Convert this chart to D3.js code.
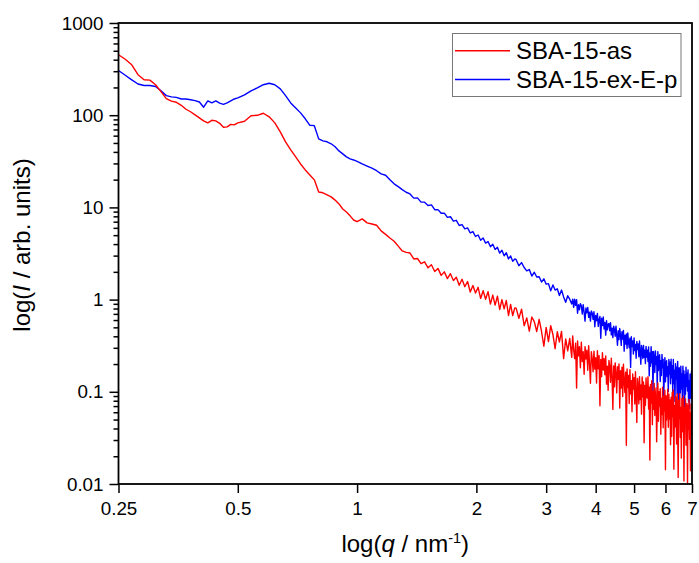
<!DOCTYPE html>
<html>
<head>
<meta charset="utf-8">
<script src="https://cdn.jsdelivr.net/npm/d3@7"></script>
<style>
    html, body { margin: 0; padding: 0; background: #fff; }
    svg { display: block; font-family: "Liberation Sans", Arial, sans-serif; }
    .axis line { stroke: #000; stroke-width: 1.5; }
    .axis text { font-size: 18.8px; fill: #000; font-family: "Liberation Sans", Arial, sans-serif; }
</style>
</head>
<body>
<div id="chart"></div>
<script>
// scattering vector q (nm^-1), shared by both curves
var qValues = [
    0.25,0.26,0.27,0.28,0.29,0.30,0.31,0.32,0.33,0.34,0.35,0.36,0.37,0.38,0.39,0.40,
    0.41,0.42,0.43,0.44,0.45,0.46,0.47,0.48,0.49,0.50,0.52,0.54,0.56,0.58,0.60,0.62,
    0.64,0.66,0.68,0.70,0.72,0.74,0.76,0.78,0.80,0.82,0.84,0.86,0.88,0.90,0.92,0.94,
    0.96,0.98,1.00,1.03,1.06,1.09,1.12,1.15,1.18,1.21,1.24,1.27,1.30,
    1.33,1.36,1.39,1.42,1.45,1.48,1.51,1.54,1.57,1.60,1.63,1.66,1.69,1.72,1.75,1.78,
    1.81,1.84,1.87,1.90,1.93,1.96,1.99,2.02,2.05,2.08,2.11,2.14,2.17,2.20,2.23,2.26,
    2.29,2.32,2.35,2.38,2.41,2.44,2.47,2.50,
    2.52,2.56,2.60,2.64,2.68,2.72,2.76,2.80,2.84,2.88,2.92,2.96,3.00,
    3.04,3.08,3.12,3.16,3.20,3.24,3.28,3.32,3.36,3.40,3.44,3.48,
    3.50,3.52,3.54,3.56,3.58,3.60,3.62,3.64,3.66,3.68,3.70,3.72,3.74,3.76,3.78,3.80,3.82,3.84,3.86,3.88,
    3.90,3.92,3.94,3.96,3.98,
    4.00,4.02,4.04,4.06,4.08,4.10,4.12,4.14,4.16,4.18,4.20,4.22,4.24,4.26,4.28,4.30,4.32,4.34,4.36,4.38,
    4.40,4.42,4.44,4.46,4.48,4.50,4.52,4.54,4.56,4.58,
    4.60,4.62,4.64,4.66,4.68,4.70,4.72,4.74,4.76,4.78,4.80,4.82,4.84,4.86,4.88,4.90,4.92,4.94,4.96,4.98,
    5.00,5.02,5.04,5.06,5.08,5.10,5.12,5.14,5.16,5.18,5.20,5.22,5.24,5.26,5.28,5.30,5.32,5.34,5.36,5.38,
    5.40,5.42,5.44,5.46,5.48,5.50,5.52,5.54,5.56,5.58,5.60,5.62,5.64,5.66,5.68,5.70,5.72,5.74,5.76,5.78,
    5.80,5.82,5.84,5.86,5.88,5.90,5.92,5.94,5.96,5.98,6.00,6.02,6.04,6.06,6.08,6.10,6.12,6.14,6.16,6.18,
    6.20,6.22,6.24,6.26,6.28,6.30,6.32,6.34,6.36,6.38,6.40,6.42,6.44,6.46,6.48,6.50,6.52,6.54,6.56,6.58,
    6.60,6.62,6.64,6.66,6.68,6.70,6.72,6.74,6.76,6.78,6.80,6.82,6.84,6.86,6.88,6.90,6.92,6.94,6.96,6.98,
    7.00
];

// SBA-15-as intensity (arb. units)
var asIntensity = [
    453,404,352,275,242,240,214,180,151,142,138,128,116,109,101,93.7,
    86.9,82.6,88,86.9,81.7,73.9,74.8,79.6,78.6,82.6,85.9,98.5,99.7,105,96,82.6,
    66,51.4,42,35.3,29.6,25.5,22.5,19.9,14.7,14.4,13.7,13.0,12.0,10.9,9.6,8.9,
    8.1,7.3,7.0,7.5,6.8,6.6,6.4,5.56,5.1,4.66,4.3,3.8,3.37,
    3.25,3.2,2.76,2.79,2.45,2.57,2.21,2.39,2.02,2.18,1.83,2.0,1.69,1.91,1.61,1.75,
    1.43,1.66,1.38,1.57,1.21,1.42,1.18,1.36,1.03,1.25,1.01,1.22,0.893,1.12,0.871,1.09,
    0.781,1.0,0.792,0.978,0.672,0.885,0.67,0.814,
    0.809,0.626,0.788,0.521,0.634,0.455,0.647,0.576,0.451,0.611,0.451,0.312,0.50,
    0.35,0.521,0.418,0.293,0.448,0.347,0.452,0.229,0.374,0.278,0.38,0.236,
    0.404,0.285,0.229,0.336,0.11,0.356,0.245,0.308,0.182,0.345,0.213,0.273,0.155,0.309,0.227,0.283,0.171,0.316,0.199,0.124,
    0.272,0.23,0.165,0.276,0.176,
    0.235,0.1245,0.279,0.178,0.247,0.0707,0.225,0.146,0.265,0.172,0.229,0.153,0.245,0.121,0.19,0.104,0.219,0.189,0.127,0.231,
    0.143,0.0644,0.191,0.113,0.206,0.16,0.0973,0.187,0.137,0.2,
    0.0667,0.169,0.11,0.185,0.089,0.199,0.13,0.0982,0.163,0.0263,0.177,0.111,0.15,0.0747,0.174,0.0949,0.132,0.0606,0.156,0.107,
    0.142,0.0736,0.165,0.0927,0.0465,0.14,0.114,0.074,0.146,0.0822,0.119,0.0572,0.145,0.0882,0.128,0.028,0.117,0.0715,0.141,0.0874,
    0.0855,0.146,0.0651,0.112,0.0182,0.12,0.0757,0.132,0.044,0.101,0.0645,0.123,0.0553,0.0886,0.11,0.0287,0.0648,0.125,0.048,0.1,
    0.0707,0.108,0.0347,0.0847,0.0567,0.112,0.0408,0.0898,0.062,0.104,0.0143,0.0907,0.0494,0.0664,0.107,0.0412,0.0943,0.0506,0.0817,0.0266,
    0.0872,0.0329,0.0983,0.0535,0.105,0.0145,0.0707,0.0415,0.0895,0.0769,0.0272,0.0951,0.0431,0.0118,0.0813,0.0516,0.095,0.032,0.0676,0.0191,
    0.0847,0.0733,0.0368,0.0898,0.0108,0.0675,0.0444,0.0835,0.0264,0.0553,0.0749,0.0102,0.0705,0.0392,0.0825,0.0305,0.0588,0.0139,0.0737,0.0349,
    0.0601
];

// SBA-15-ex-E-p intensity (arb. units)
var exIntensity = [
    305,271,242,218,210,210,205,184,163,158,156,150,150,147,144,139,
    122,143,136,143,135,131,136,143,150,154,166,184,198,214,222,214,
    193,163,136,120,106,91.4,77.7,77,55.4,52.7,51.5,49,45.4,41,38.1,35.3,
    33.6,32.7,31.5,29.6,28,26.6,25,23.1,22.3,19.9,18.0,16.8,15.6,
    14.6,14.0,12.6,12.7,11.4,11.4,10.5,10.65,9.44,9.46,8.65,8.67,7.8,7.92,7.09,7.24,
    6.36,6.51,5.85,5.99,5.28,5.47,4.84,5.02,4.4,4.66,4.1,4.26,3.74,3.98,3.5,3.7,
    3.19,3.43,2.99,3.22,2.76,2.98,2.6,2.76,
    2.71,2.33,2.52,2.23,2.05,2.12,1.80,1.98,1.76,1.77,1.55,1.68,1.47,
    1.49,1.25,1.44,1.27,1.31,1.11,1.27,1.07,0.936,1.10,1.01,0.898,
    1.01,0.824,1.01,0.867,1.0,0.712,0.879,0.777,0.904,0.857,0.698,0.881,0.726,0.584,0.81,0.72,0.822,0.642,0.731,0.585,
    0.753,0.716,0.61,0.737,0.508,
    0.675,0.59,0.707,0.512,0.605,0.656,0.381,0.627,0.523,0.647,0.48,0.564,0.412,0.592,0.47,0.541,0.551,0.459,0.56,0.414,
    0.489,0.387,0.515,0.476,0.401,0.516,0.413,0.32,0.46,0.368,
    0.485,0.416,0.319,0.449,0.373,0.462,0.276,0.41,0.329,0.424,0.295,0.436,0.345,0.301,0.382,0.184,0.395,0.309,0.357,0.257,
    0.383,0.28,0.326,0.231,0.352,0.288,0.33,0.24,0.355,0.261,0.199,0.318,0.283,0.23,0.319,0.237,0.282,0.202,0.31,0.238,
    0.283,0.213,0.307,0.149,0.264,0.189,0.308,0.206,0.273,0.0916,0.274,0.231,0.162,0.278,0.197,0.24,0.11,0.273,0.17,0.236,
    0.252,0.129,0.217,0.15,0.254,0.182,0.225,0.087,0.159,0.235,0.128,0.203,0.218,0.146,0.187,0.101,0.225,0.156,0.21,0.122,
    0.226,0.142,0.192,0.0959,0.224,0.123,0.171,0.0783,0.202,0.138,0.185,0.0956,0.214,0.12,0.0602,0.182,0.149,0.0967,0.19,0.107,
    0.156,0.0747,0.189,0.115,0.168,0.0367,0.153,0.0939,0.185,0.115,0.159,0.102,0.173,0.078,0.132,0.0658,0.156,0.134,0.0852,0.168,
    0.0992
];

var seriesNames  = ["SBA-15-as", "SBA-15-ex-E-p"];
var seriesColors = ["#ff0000", "#0000ff"];
var xTickValues  = [0.25, 0.5, 1, 2, 3, 4, 5, 6, 7];
var yTickValues  = [0.01, 0.1, 1, 10, 100, 1000];

(function()
{
    "use strict";

    var W = 699, H = 563;
    var left = 118.5, right = 692, top = 23, bottom = 484;

    var svg = d3.select("#chart")
                .append("svg")
                .attr("width", W)
                .attr("height", H);

    // #########################################################################
    var x = d3.scaleLog().domain([0.25, 7]).range([left, right]);
    var y = d3.scaleLog().domain([0.01, 1000]).range([bottom, top]);
    // #########################################################################

    svg.append("clipPath")
       .attr("id", "plotclip")
       .append("rect")
       .attr("x", left).attr("y", top)
       .attr("width", right - left).attr("height", bottom - top);

    var series = [asIntensity, exIntensity].map(function(vals, k) {
        return {
            name: seriesNames[k],
            color: seriesColors[k],
            points: qValues.map(function(q, i) { return {q: q, v: vals[i]}; })
        };
    });

    var line = d3.line()
                 .x(function(d) { return x(d.q); })
                 .y(function(d) { return y(d.v); });

    // blue first so red sits on top
    svg.append("g")
       .attr("clip-path", "url(#plotclip)")
       .selectAll("path")
       .data([series[1], series[0]])
       .enter().append("path")
       .attr("d", function(d) { return line(d.points); })
       .attr("fill", "none")
       .attr("stroke", function(d) { return d.color; })
       .attr("stroke-width", 1.4)
       .attr("stroke-linejoin", "round");

    // axes ####################################################################
    var minorY = y.ticks().filter(function(t) {
        return yTickValues.indexOf(+t.toPrecision(6)) < 0;
    });

    var yMinor = svg.append("g")
                    .attr("class", "axis")
                    .attr("transform", "translate(" + left + ",0)")
                    .call(d3.axisLeft(y).tickValues(minorY).tickSize(5).tickFormat(""));
    yMinor.select(".domain").remove();

    var yAxis = svg.append("g")
                   .attr("class", "axis")
                   .attr("transform", "translate(" + left + ",0)")
                   .call(d3.axisLeft(y)
                           .tickValues(yTickValues)
                           .tickSize(9)
                           .tickPadding(6)
                           .tickFormat(d3.format("~g")));
    yAxis.select(".domain").remove();

    var xAxis = svg.append("g")
                   .attr("class", "axis")
                   .attr("transform", "translate(0," + bottom + ")")
                   .call(d3.axisBottom(x)
                           .tickValues(xTickValues)
                           .tickSize(9)
                           .tickPadding(8.5)
                           .tickFormat(d3.format("~g")));
    xAxis.select(".domain").remove();

    // frame
    svg.append("rect")
       .attr("x", left).attr("y", top)
       .attr("width", right - left).attr("height", bottom - top)
       .attr("fill", "none")
       .attr("stroke", "#000")
       .attr("stroke-width", 1.8);

    // axis titles #############################################################
    var xt = svg.append("text")
                .attr("x", (left + right) / 2)
                .attr("y", 552)
                .attr("text-anchor", "middle")
                .style("font-size", "24px");
    xt.append("tspan").text("log(");
    xt.append("tspan").style("font-style", "italic").text("q");
    xt.append("tspan").text(" / nm");
    xt.append("tspan").attr("dy", -9).style("font-size", "14.5px").text("-1");
    xt.append("tspan").attr("dy", 9).text(")");

    var yt = svg.append("text")
                .attr("transform", "translate(30,245) rotate(-90)")
                .attr("text-anchor", "middle")
                .style("font-size", "24px");
    yt.append("tspan").text("log(");
    yt.append("tspan").style("font-style", "italic").text("I");
    yt.append("tspan").text(" / arb. units)");

    // legend ##################################################################
    var legend = svg.append("g");
    legend.append("rect")
          .attr("x", 452.5).attr("y", 33.5)
          .attr("width", 228.5).attr("height", 63)
          .attr("fill", "#fff")
          .attr("stroke", "#777")
          .attr("stroke-width", 1);

    var items = legend.selectAll("g.item")
                      .data(series)
                      .enter().append("g")
                      .attr("class", "item")
                      .attr("transform", function(d, i) { return "translate(0," + (50.7 + i * 28.8) + ")"; });
    items.append("line")
         .attr("x1", 455).attr("x2", 510)
         .attr("stroke", function(d) { return d.color; })
         .attr("stroke-width", 1.4);
    items.append("text")
         .attr("x", 516)
         .attr("y", 8.6)
         .style("font-size", "24px")
         .text(function(d) { return d.name; });
})();
</script>
</body>
</html>
